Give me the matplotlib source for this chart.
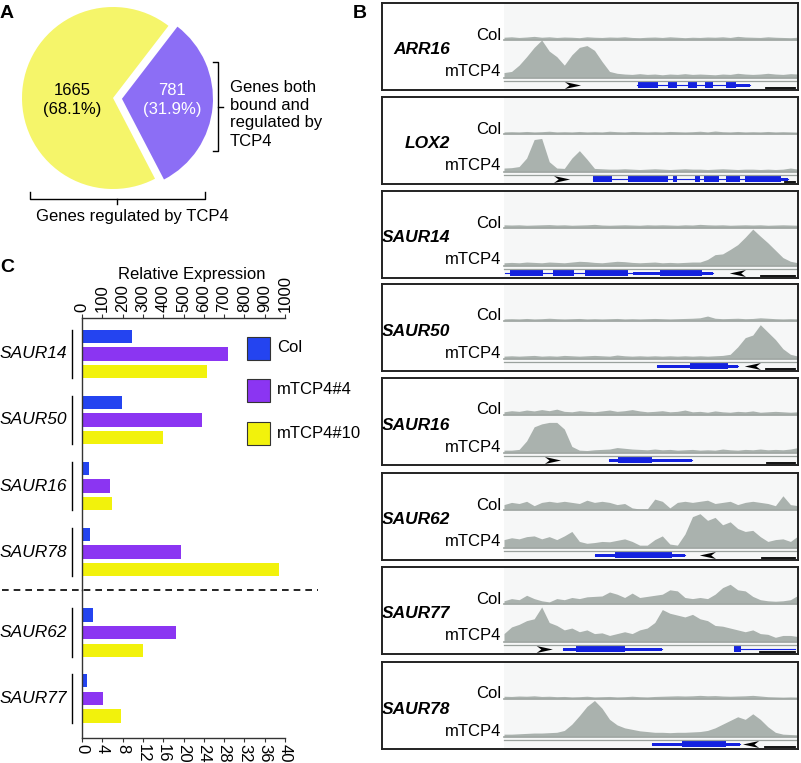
import numpy as np
import matplotlib.pyplot as plt
from matplotlib.patches import Rectangle, Polygon

plt.rcParams['font.family'] = ['Liberation Sans', 'DejaVu Sans']

# ---- panel A data
pie_counts = [781, 1665]
pie_colors = ['#8C6EF5', '#F5F56A']
pie_text_colors = ['white', 'black']

# ---- panel C data
genes_top = ['SAUR14', 'SAUR50', 'SAUR16', 'SAUR78']
col_top = [245, 195, 36, 39]
m4_top = [720, 593, 138, 488]
m10_top = [614, 400, 146, 970]
genes_bot = ['SAUR62', 'SAUR77']
col_bot = [2.1, 1.05]
m4_bot = [18.5, 4.2]
m10_bot = [12.0, 7.7]
series_names = ['Col', 'mTCP4#4', 'mTCP4#10']
bar_colors = ['#2444F0', '#8B35F2', '#F2F20C']

# ---- panel B data (track heights, 40 bins across the locus)
track_genes = ['ARR16', 'LOX2', 'SAUR14', 'SAUR50', 'SAUR16', 'SAUR62', 'SAUR77', 'SAUR78']

col_arr16 = [0.08, 0.10, 0.07, 0.09, 0.12, 0.08, 0.10, 0.07, 0.09, 0.08,
             0.06, 0.10, 0.08, 0.07, 0.09, 0.08, 0.10, 0.07, 0.06, 0.08,
             0.09, 0.07, 0.10, 0.08, 0.06, 0.08, 0.07, 0.09, 0.08, 0.10,
             0.07, 0.12, 0.09, 0.08, 0.07, 0.10, 0.08, 0.07, 0.06, 0.08]
tcp_arr16 = [0.12, 0.15, 0.32, 0.55, 0.80, 1.00, 0.70, 0.55, 0.32, 0.60,
             0.80, 0.85, 0.72, 0.42, 0.15, 0.10, 0.08, 0.07, 0.09, 0.07,
             0.08, 0.06, 0.08, 0.07, 0.09, 0.07, 0.08, 0.07, 0.06, 0.08,
             0.07, 0.10, 0.08, 0.07, 0.08, 0.10, 0.08, 0.07, 0.09, 0.08]
col_lox2 = [0.05, 0.06, 0.05, 0.07, 0.05, 0.06, 0.08, 0.05, 0.06, 0.05,
            0.07, 0.05, 0.06, 0.05, 0.08, 0.06, 0.05, 0.07, 0.06, 0.05,
            0.06, 0.05, 0.07, 0.06, 0.05, 0.06, 0.08, 0.05, 0.09, 0.06,
            0.05, 0.07, 0.05, 0.06, 0.05, 0.07, 0.05, 0.06, 0.05, 0.04]
tcp_lox2 = [0.08, 0.09, 0.12, 0.35, 0.85, 0.88, 0.25, 0.08, 0.07, 0.35,
            0.55, 0.32, 0.07, 0.06, 0.05, 0.05, 0.06, 0.05, 0.04, 0.05,
            0.06, 0.05, 0.04, 0.05, 0.06, 0.05, 0.05, 0.04, 0.05, 0.06,
            0.05, 0.04, 0.05, 0.05, 0.04, 0.05, 0.04, 0.05, 0.08, 0.05]
col_saur14 = [0.10, 0.09, 0.10, 0.08, 0.09, 0.10, 0.11, 0.09, 0.10, 0.08,
              0.09, 0.10, 0.12, 0.09, 0.08, 0.09, 0.10, 0.09, 0.08, 0.10,
              0.09, 0.10, 0.09, 0.08, 0.10, 0.09, 0.12, 0.10, 0.09, 0.10,
              0.08, 0.09, 0.10, 0.09, 0.10, 0.08, 0.09, 0.10, 0.09, 0.08]
tcp_saur14 = [0.06, 0.07, 0.06, 0.08, 0.07, 0.06, 0.08, 0.07, 0.06, 0.08,
              0.10, 0.09, 0.07, 0.06, 0.08, 0.10, 0.09, 0.07, 0.06, 0.07,
              0.08, 0.06, 0.07, 0.06, 0.07, 0.08, 0.08, 0.15, 0.28, 0.30,
              0.42, 0.55, 0.75, 0.97, 0.78, 0.60, 0.40, 0.20, 0.10, 0.06]
col_saur50 = [0.05, 0.06, 0.05, 0.07, 0.05, 0.06, 0.08, 0.06, 0.05, 0.06,
              0.07, 0.05, 0.06, 0.05, 0.06, 0.07, 0.05, 0.06, 0.05, 0.06,
              0.07, 0.06, 0.05, 0.06, 0.07, 0.08, 0.10, 0.18, 0.08, 0.06,
              0.07, 0.08, 0.06, 0.07, 0.10, 0.08, 0.06, 0.05, 0.06, 0.05]
tcp_saur50 = [0.05, 0.06, 0.05, 0.06, 0.07, 0.05, 0.06, 0.05, 0.07, 0.06,
              0.05, 0.06, 0.07, 0.06, 0.05, 0.08, 0.06, 0.05, 0.06, 0.05,
              0.06, 0.05, 0.06, 0.05, 0.06, 0.05, 0.06, 0.05, 0.06, 0.07,
              0.10, 0.30, 0.55, 0.62, 0.90, 0.70, 0.50, 0.25, 0.10, 0.05]
col_saur16 = [0.10, 0.15, 0.12, 0.18, 0.14, 0.20, 0.15, 0.22, 0.12, 0.10,
              0.15, 0.12, 0.10, 0.14, 0.18, 0.12, 0.15, 0.20, 0.14, 0.10,
              0.12, 0.15, 0.10, 0.12, 0.18, 0.10, 0.12, 0.08, 0.14, 0.10,
              0.08, 0.12, 0.10, 0.14, 0.08, 0.10, 0.12, 0.10, 0.08, 0.10]
tcp_saur16 = [0.05, 0.05, 0.07, 0.30, 0.68, 0.76, 0.80, 0.80, 0.62, 0.15,
              0.05, 0.04, 0.06, 0.07, 0.08, 0.12, 0.10, 0.08, 0.07, 0.06,
              0.08, 0.06, 0.07, 0.05, 0.06, 0.07, 0.05, 0.06, 0.05, 0.08,
              0.06, 0.05, 0.07, 0.06, 0.08, 0.06, 0.07, 0.06, 0.08, 0.12]
col_saur62 = [0.20, 0.30, 0.25, 0.35, 0.15, 0.30, 0.35, 0.30, 0.35, 0.30,
              0.25, 0.40, 0.30, 0.35, 0.30, 0.20, 0.25, 0.05, 0.00, 0.00,
              0.45, 0.35, 0.05, 0.30, 0.35, 0.30, 0.35, 0.40, 0.25, 0.30,
              0.35, 0.20, 0.30, 0.35, 0.30, 0.25, 0.15, 0.60, 0.20, 0.15]
tcp_saur62 = [0.20, 0.25, 0.22, 0.28, 0.30, 0.22, 0.28, 0.20, 0.30, 0.42,
              0.15, 0.10, 0.12, 0.15, 0.14, 0.18, 0.22, 0.15, 0.05, 0.05,
              0.20, 0.30, 0.08, 0.05, 0.35, 0.82, 0.90, 0.72, 0.80, 0.60,
              0.68, 0.50, 0.42, 0.45, 0.28, 0.15, 0.20, 0.22, 0.15, 0.30]
col_saur77 = [0.10, 0.20, 0.15, 0.35, 0.20, 0.10, 0.05, 0.20, 0.15, 0.25,
              0.20, 0.28, 0.30, 0.32, 0.50, 0.40, 0.25, 0.45, 0.25, 0.30,
              0.35, 0.40, 0.60, 0.55, 0.25, 0.20, 0.25, 0.20, 0.40, 0.70,
              0.85, 0.60, 0.55, 0.30, 0.15, 0.10, 0.08, 0.10, 0.15, 0.35]
tcp_saur77 = [0.20, 0.38, 0.45, 0.55, 0.60, 0.92, 0.50, 0.42, 0.30, 0.35,
              0.25, 0.30, 0.20, 0.22, 0.15, 0.20, 0.25, 0.20, 0.30, 0.35,
              0.50, 0.85, 0.75, 0.70, 0.65, 0.72, 0.60, 0.55, 0.42, 0.40,
              0.35, 0.30, 0.25, 0.30, 0.20, 0.18, 0.10, 0.15, 0.15, 0.12]
col_saur78 = [0.08, 0.07, 0.09, 0.08, 0.10, 0.07, 0.08, 0.06, 0.07, 0.05,
              0.06, 0.08, 0.05, 0.06, 0.07, 0.05, 0.06, 0.08, 0.06, 0.05,
              0.07, 0.08, 0.09, 0.10, 0.09, 0.10, 0.12, 0.10, 0.11, 0.09,
              0.08, 0.09, 0.10, 0.12, 0.09, 0.06, 0.05, 0.04, 0.05, 0.04]
tcp_saur78 = [0.05, 0.05, 0.06, 0.07, 0.08, 0.08, 0.09, 0.10, 0.15, 0.32,
              0.55, 0.80, 0.96, 0.75, 0.45, 0.30, 0.22, 0.18, 0.14, 0.12,
              0.10, 0.10, 0.09, 0.10, 0.10, 0.11, 0.12, 0.15, 0.22, 0.32,
              0.42, 0.52, 0.45, 0.60, 0.45, 0.25, 0.10, 0.05, 0.04, 0.03]

col_tracks = [col_arr16, col_lox2, col_saur14, col_saur50, col_saur16, col_saur62, col_saur77, col_saur78]
tcp_tracks = [tcp_arr16, tcp_lox2, tcp_saur14, tcp_saur50, tcp_saur16, tcp_saur62, tcp_saur77, tcp_saur78]

# gene models, positions in % of the locus window
gene_lines = [[(45.1, 83.6)], [(30.4, 96.6)], [(0.3, 71.1)], [(52.1, 79.6)],
              [(35.8, 63.9)], [(30.9, 61.5)], [(20.2, 53.9), (78.1, 98.9)], [(50.5, 80.2)]]
gene_cds = [[(45.6, 52.4), (55.8, 58.9), (62.6, 65.5), (68.5, 71.1), (75.4, 79.0)],
            [(30.4, 36.6), (42.2, 55.8), (57.5, 58.9), (64.9, 66.6), (67.9, 73.2), (75.4, 80.2), (81.9, 94.3)],
            [(2.0, 13.4), (16.8, 23.8), (27.5, 42.2), (53.0, 67.5)],
            [(63.4, 76.2)], [(38.8, 50.2)], [(37.7, 57.0)], [(24.5, 41.1), (78.1, 80.7)], [(60.4, 75.4)]]
gene_utr = [[(79.0, 83.6)], [(94.3, 96.6)], [(43.9, 53.0), (67.5, 71.1)], [(52.1, 63.4), (76.2, 79.6)],
            [(35.8, 38.8), (50.2, 63.9)], [(30.9, 37.7), (57.0, 61.5)], [(20.2, 24.5), (41.1, 53.9)],
            [(50.5, 60.4), (75.4, 80.2)]]
arrow_pos = [20.7, 17.0, 76.8, 81.9, 13.9, 66.6, 11.1, 81.3]
arrow_dir = [1, 1, -1, -1, 1, -1, 1, -1]
scale_bars = [(89.2, 98.9), (95.5, 98.9), (87.5, 98.9), (89.0, 98.9),
              (89.5, 98.9), (87.9, 98.9), (87.0, 98.9), (88.7, 98.9)]

W, H = 801, 763
fig = plt.figure(figsize=(W / 100, H / 100), dpi=100)


def box(x0, y0, x1, y1):
    # pixel rectangle (origin top-left) -> figure fraction
    return [x0 / W, 1 - y1 / H, (x1 - x0) / W, (y1 - y0) / H]


ov = fig.add_axes([0, 0, 1, 1], zorder=5)
ov.set_xlim(0, W)
ov.set_ylim(H, 0)
ov.axis('off')

# panel letters
for lab, x, y in [('A', 7, 14), ('B', 360, 13), ('C', 7, 268)]:
    ov.text(x, y, lab, fontsize=14, fontweight='bold', ha='center', va='center')

# ---------------- A: pie
pa = fig.add_axes(box(0, 0, 240, 220))
pa.pie(pie_counts, colors=pie_colors, startangle=-62.5, counterclock=True,
       explode=[9, 0], radius=91, center=(113, 122), wedgeprops=dict(linewidth=0))
pa.set_xlim(0, 240)
pa.set_ylim(0, 220)
pa.set_aspect('auto')
pa.axis('off')

total = sum(pie_counts)
for c, tc, (x, y) in zip(pie_counts, pie_text_colors, [(172, 100), (72, 100)]):
    ov.text(x, y, f'{c}\n({c / total * 100:.1f}%)', ha='center', va='center',
            fontsize=12, color=tc, linespacing=1.3)

ov.plot([213, 218, 218, 213], [62, 62, 151, 151], color='k', lw=1)
ov.plot([218, 223], [107, 107], color='k', lw=1)
ov.text(230, 114, 'Genes both\nbound and\nregulated by\nTCP4', ha='left', va='center',
        fontsize=12, linespacing=1.25)
ov.plot([30, 30, 205, 205], [192, 199, 199, 192], color='k', lw=1)
ov.plot([117, 117], [199, 204], color='k', lw=1)
ov.text(132, 217, 'Genes regulated by TCP4', ha='center', va='center', fontsize=12)

# ---------------- C: bars
axt = fig.add_axes(box(82, 318, 285, 590))
axb = fig.add_axes(box(82, 590, 285, 738))
off, bh = 0.27, 0.2

for j, vals in enumerate([col_top, m4_top, m10_top]):
    axt.barh(np.arange(len(genes_top)) + (j - 1) * off, vals, height=bh, color=bar_colors[j])
for j, vals in enumerate([col_bot, m4_bot, m10_bot]):
    axb.barh(np.arange(len(genes_bot)) + (j - 1) * off, vals, height=bh, color=bar_colors[j])

axt.set_ylim(3.575, -0.545)
axb.set_ylim(1.606, -0.652)
axt.set_xlim(0, 1000)
axb.set_xlim(0, 40)
axt.set_xticks(range(0, 1001, 100))
axb.set_xticks(range(0, 41, 4))
axt.xaxis.tick_top()
axt.tick_params(axis='x', labelrotation=90, labelsize=12, length=3, pad=1.5, color='#333')
axb.tick_params(axis='x', labelrotation=270, labelsize=12, length=3, pad=1.5, color='#333')
for a, hide in [(axt, ['bottom', 'right']), (axb, ['top', 'right'])]:
    a.set_yticks([])
    a.patch.set_alpha(0)
    for s in hide:
        a.spines[s].set_visible(False)
    for s in a.spines.values():
        s.set_color('#333')
        s.set_linewidth(1)

for a, names in [(axt, genes_top), (axb, genes_bot)]:
    tr = a.get_yaxis_transform()
    for i, name in enumerate(names):
        a.text(-0.074, i, name, transform=tr, ha='right', va='center', style='italic', fontsize=12.5)
        a.plot([-0.049, -0.049], [i - 0.37, i + 0.37], transform=tr, clip_on=False, color='k', lw=1)

ov.text(192, 274, 'Relative Expression', ha='center', va='center', fontsize=12)
ov.plot([2, 318], [590, 590], color='k', lw=1.2, ls=(0, (4, 3)))

for name, colr, yc in zip(series_names, bar_colors, [348, 390, 433]):
    ov.add_patch(Rectangle((247, yc - 11.5), 23, 23, facecolor=colr, edgecolor='#333', lw=0.8))
    ov.text(277, yc, name, ha='left', va='center', fontsize=12)

# ---------------- B: browser tracks
box_tops = [3, 97, 191, 284, 378, 473, 567, 662]
track_gray = '#AAB2AE'
line_gray = '#9AA19D'
gene_blue = '#1422E0'
xs = np.linspace(0, 100, 40)

for k, top in enumerate(box_tops):
    ax = fig.add_axes(box(382, top, 798, top + 87))
    ax.set_xlim(-41.5, 100)
    ax.set_ylim(87, 0)
    ax.set_xticks([])
    ax.set_yticks([])
    for s in ax.spines.values():
        s.set_linewidth(1.4)
        s.set_color('#222')
    ax.axvspan(0, 100, color='#F6F7F7', zorder=0, lw=0)

    ax.fill_between(xs, 36 - np.array(col_tracks[k]) * 22, 36, color=track_gray, lw=0)
    ax.plot([0, 100], [36.8, 36.8], color=line_gray, lw=1.2)
    ax.fill_between(xs, 74 - np.array(tcp_tracks[k]) * 37, 74, color=track_gray, lw=0)
    ax.plot([0, 100], [74.8, 74.8], color=line_gray, lw=1.2)
    ax.plot([0, 100], [77.6, 77.6], color=line_gray, lw=0.9)

    gy = 82
    for s, e in gene_lines[k]:
        ax.plot([s, e], [gy, gy], color=gene_blue, lw=0.8)
    for s, e in gene_utr[k]:
        ax.add_patch(Rectangle((s, gy - 1.5), e - s, 3, color=gene_blue, lw=0))
    for s, e in gene_cds[k]:
        ax.add_patch(Rectangle((s, gy - 3), e - s, 6, color=gene_blue, lw=0))

    x0, d = arrow_pos[k], arrow_dir[k]
    if d > 0:
        pts = [(x0, gy - 3), (x0 + 5.5, gy + 0.5), (x0, gy + 4), (x0 + 1.6, gy + 0.5)]
    else:
        pts = [(x0 + 5.5, gy - 3), (x0, gy + 0.5), (x0 + 5.5, gy + 4), (x0 + 3.9, gy + 0.5)]
    ax.add_patch(Polygon(pts, closed=True, color='k', lw=0))

    sb0, sb1 = scale_bars[k]
    ax.plot([sb0, sb1], [84.5, 84.5], color='k', lw=1.3)

    ax.text(-18.4, 47, track_genes[k], ha='right', va='center', fontsize=12.5,
            fontweight='bold', style='italic')
    ax.text(-0.8, 32, 'Col', ha='right', va='center', fontsize=12)
    ax.text(-0.8, 69, 'mTCP4', ha='right', va='center', fontsize=12)

fig.savefig('out.png', dpi=100)
